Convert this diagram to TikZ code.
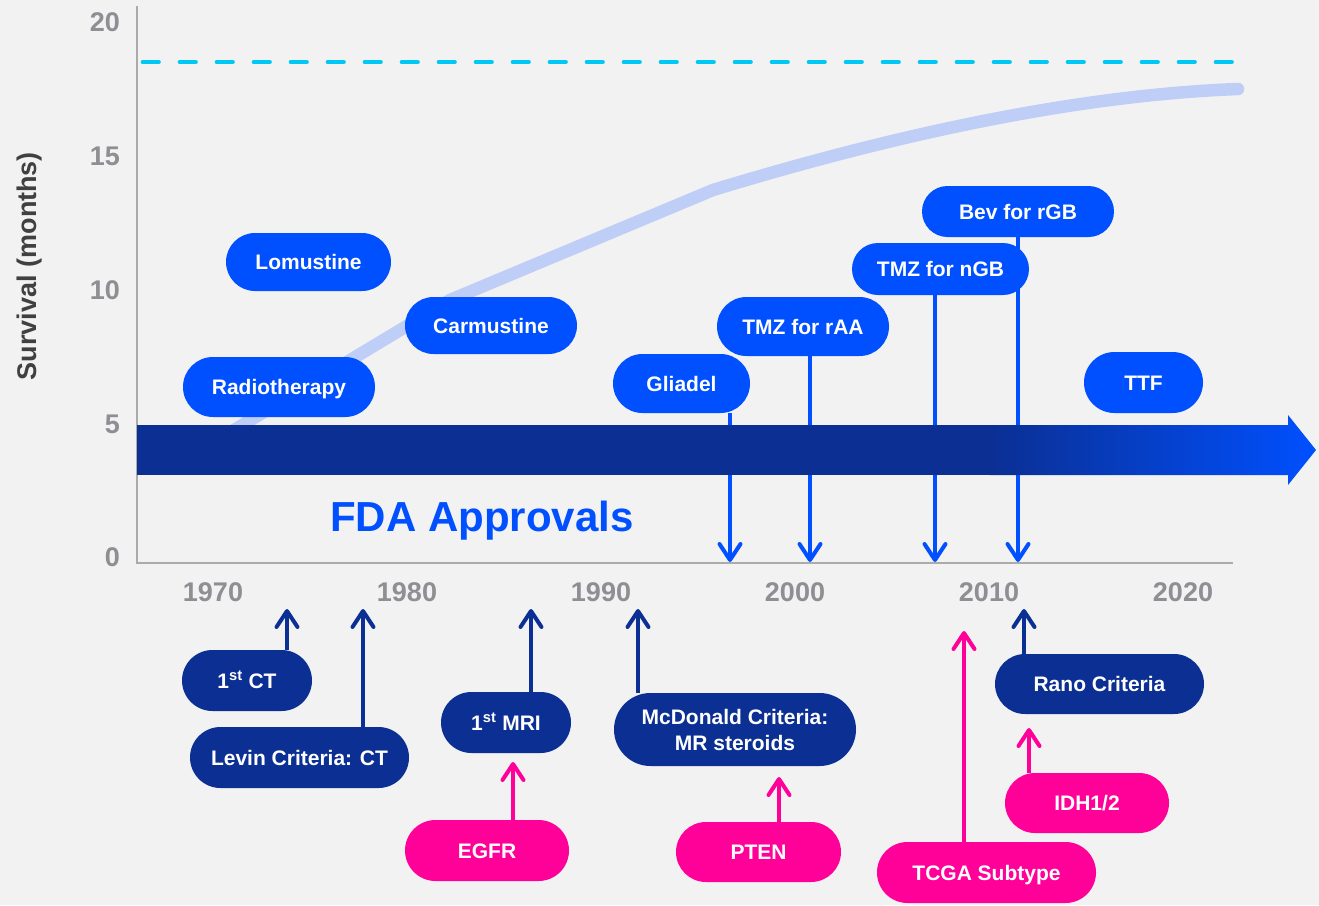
\documentclass[tikz,border=0pt]{standalone}
\usepackage{fontspec}
\setmainfont{Liberation Sans}
\usetikzlibrary{arrows.meta,shapes.misc}
\definecolor{bg}{HTML}{F2F2F2}
\definecolor{bblue}{HTML}{0050FF}
\definecolor{navy}{HTML}{0B2F93}
\definecolor{pinkc}{HTML}{FF0099}
\definecolor{cyanl}{HTML}{00C8F5}
\definecolor{curvec}{HTML}{BECEF7}
\definecolor{axisg}{HTML}{ABABAB}
\definecolor{labg}{HTML}{8E8E93}
\definecolor{titleg}{HTML}{404040}
\begin{document}
\begin{tikzpicture}[x=1pt,y=-1pt,
  pill/.style={rounded rectangle, inner sep=0pt, text=white,
    font=\bfseries\fontsize{21}{26}\selectfont, text height=15pt, text depth=0pt},
  fda/.style={pill, fill=bblue},
  nav/.style={pill, fill=navy},
  pnk/.style={pill, fill=pinkc},
  ylab/.style={anchor=east, text=labg, font=\bfseries\fontsize{27}{30}\selectfont, inner sep=0pt},
  xlab/.style={text=labg, font=\bfseries\fontsize{27}{30}\selectfont, inner sep=0pt},
  tipb/.style={-{Straight Barb[length=16pt,width=21pt,round]}, line width=4pt},
  darr/.style={tipb, bblue},
  narr/.style={tipb, navy},
  parr/.style={tipb, pinkc}]
% background
\fill[bg] (0,0) rectangle (1319,905);
% axes
\draw[axisg, line width=2.5pt] (137,6) -- (137,563) -- (1233,563);
% y labels
\node[ylab] (y20) at (120,22) {20};
\node[ylab] (y15) at (120,156) {15};
\node[ylab] (y10) at (120,290) {10};
\node[ylab] (y5) at (120,424) {5};
\node[ylab] (y0) at (120,557) {0};
\node[text=titleg, font=\bfseries\fontsize{27}{30}\selectfont, rotate=90, inner sep=0pt] (ytitle) at (30,266) {Survival (months)};
% x labels
\node[xlab] (x1970) at (213,592) {1970};
\node[xlab] (x1980) at (407,592) {1980};
\node[xlab] (x1990) at (601,592) {1990};
\node[xlab] (x2000) at (795,592) {2000};
\node[xlab] (x2010) at (989,592) {2010};
\node[xlab] (x2020) at (1183,592) {2020};
% dashed target line
\draw[cyanl, line width=4.7pt, line cap=round, dash pattern=on 15.5pt off 21.5pt] (143,62) -- (1236,62);
% survival curve
\draw[curvec, line width=12.5pt, line cap=round] (234,430) -- (450,300) -- (713,190) .. controls (900,133) and (1080,95) .. (1238,89);
% FDA approval pills
\node[fda, minimum width=192pt, minimum height=60pt] (radio) at (279,387) {Radiotherapy};
\node[fda, minimum width=165pt, minimum height=58pt] (lomu) at (308.5,262) {Lomustine};
\node[fda, minimum width=172pt, minimum height=57pt] (carmu) at (491,325.5) {Carmustine};
\node[fda, minimum width=137pt, minimum height=59pt] (glia) at (681.5,383.5) {Gliadel};
\node[fda, minimum width=172pt, minimum height=59pt] (tmzraa) at (803,326.5) {TMZ for rAA};
\node[fda, minimum width=177pt, minimum height=52pt] (tmzngb) at (940.5,269) {TMZ for nGB};
\node[fda, minimum width=192pt, minimum height=51pt] (bev) at (1018,211.5) {Bev for rGB};
\node[fda, minimum width=119pt, minimum height=61pt] (ttf) at (1143.5,382.5) {TTF};
% down arrows to the time axis
\coordinate (d1) at (730,562);
\coordinate (d2) at (810,562);
\coordinate (d3) at (935,562);
\coordinate (d4) at (1018,562);
\draw[darr] (glia.south -| d1) -- (d1);
\draw[darr] (tmzraa.south -| d2) -- (d2);
\draw[darr] (tmzngb.south -| d3) -- (d3);
\draw[darr] (bev.south -| d4) -- (d4);
% timeline bar
\fill[navy] (137,425) rectangle (992,475);
\shade[left color=navy, right color=bblue] (990,425) -- (1288,425) -- (1288,415) -- (1316,450) -- (1288,485) -- (1288,475) -- (990,475) -- cycle;
\node[anchor=base west, text=bblue, font=\bfseries\fontsize{42}{48}\selectfont, inner sep=0pt] (fdalabel) at (330,531) {FDA Approvals};
% imaging / criteria pills
\node[nav, minimum width=130pt, minimum height=61pt] (ct) at (247,680.5) {1\textsuperscript{st} CT};
\node[nav, minimum width=219pt, minimum height=61pt] (levin) at (299.5,757.5) {Levin Criteria: CT};
\node[nav, minimum width=130pt, minimum height=61pt] (mri) at (506,722.5) {1\textsuperscript{st} MRI};
\node[nav, minimum width=242pt, minimum height=73pt, align=center, text height=41pt, text depth=0pt] (mcd) at (735,729.5) {McDonald Criteria:\\MR steroids};
\node[nav, minimum width=209pt, minimum height=60pt] (rano) at (1099.5,684) {Rano Criteria};
% molecular pills
\node[pnk, minimum width=164pt, minimum height=61pt] (egfr) at (487,850.5) {EGFR};
\node[pnk, minimum width=165pt, minimum height=60pt] (pten) at (758.5,852) {PTEN};
\node[pnk, minimum width=219pt, minimum height=61pt] (tcga) at (986.5,872.5) {TCGA Subtype};
\node[pnk, minimum width=164pt, minimum height=60pt] (idh) at (1087,803) {IDH1/2};
% up arrows
\coordinate (u1) at (287,609);
\coordinate (u2) at (363,609);
\coordinate (u3) at (531,609);
\coordinate (u4) at (638,609);
\coordinate (u5) at (1024,609);
\draw[narr] (ct.north -| u1) -- (u1);
\draw[narr] (levin.north -| u2) -- (u2);
\draw[narr] (mri.north -| u3) -- (u3);
\draw[narr] (mcd.north -| u4) -- (u4);
\draw[narr] (rano.north -| u5) -- (u5);
\coordinate (p1) at (513,762);
\coordinate (p2) at (779,777);
\coordinate (p3) at (964,631);
\coordinate (p4) at (1029,728);
\draw[parr] (egfr.north -| p1) -- (p1);
\draw[parr] (pten.north -| p2) -- (p2);
\draw[parr] (tcga.north -| p3) -- (p3);
\draw[parr] (idh.north -| p4) -- (p4);
\end{tikzpicture}
\end{document}
